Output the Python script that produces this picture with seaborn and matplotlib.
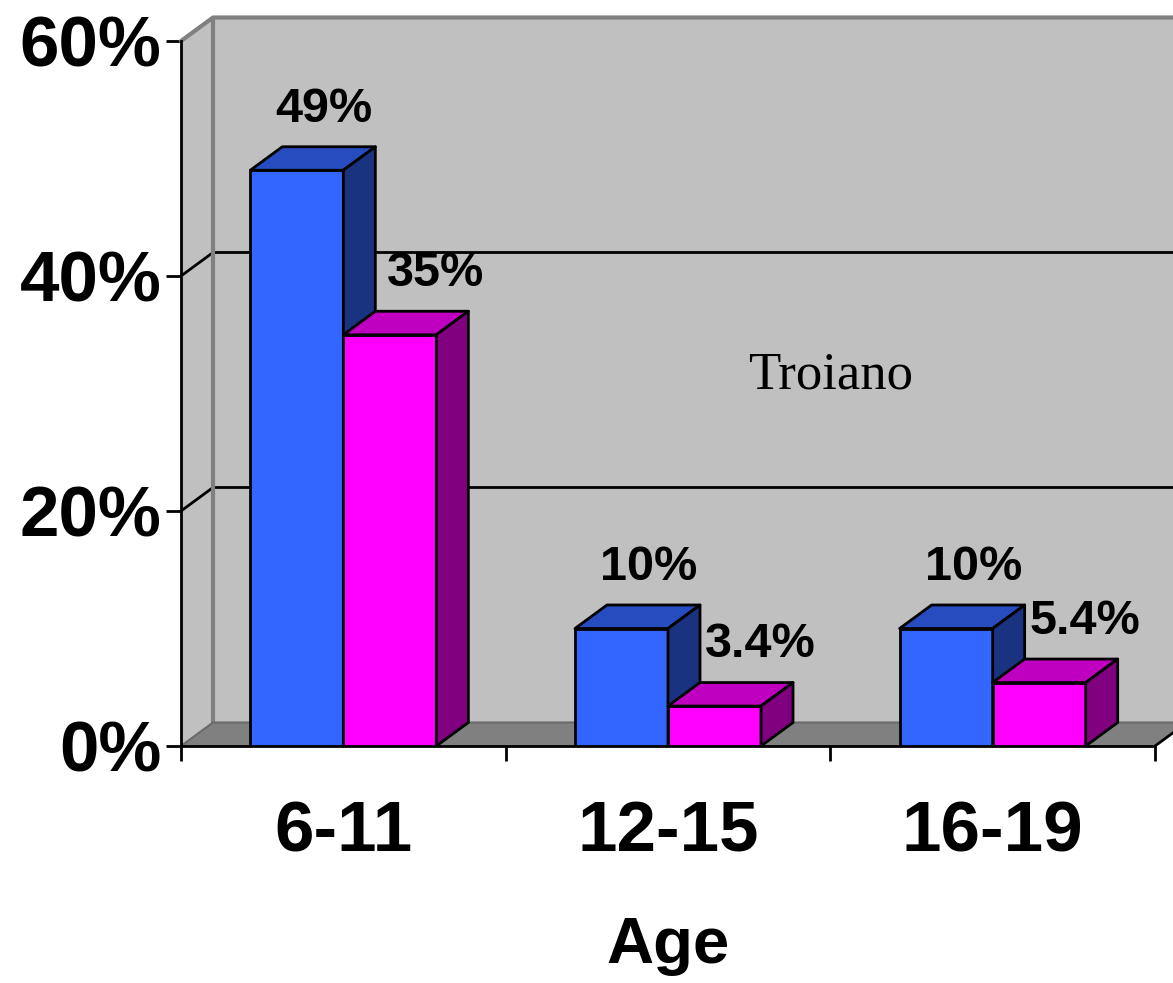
import numpy as np
import pandas as pd
import matplotlib
matplotlib.use("Agg")
import matplotlib.pyplot as plt
from matplotlib.patches import Polygon
import seaborn as sns

# ---- data ----
ages = ["6-11", "12-15", "16-19"]
series_names = ["Series A", "Series B"]
series_a = [49, 10, 10]
series_b = [35, 3.4, 5.4]
y_ticks = [0, 20, 40, 60]
note_text = "Troiano"

front_colors = ["#3366FF", "#FF00FF"]
top_colors = ["#264CC0", "#C000C0"]
side_colors = ["#1A3380", "#800080"]

df = pd.DataFrame({
    "Age": ages * 2,
    "Series": [series_names[0]] * 3 + [series_names[1]] * 3,
    "Value": series_a + series_b,
})

sns.set_theme(style="white")
plt.rcParams["font.family"] = ["Liberation Sans", "DejaVu Sans"]
plt.rcParams.update({"text.color": "black", "xtick.color": "black",
                     "ytick.color": "black", "axes.labelcolor": "black"})

W, H = 1173, 983
fig = plt.figure(figsize=(W / 100, H / 100), dpi=100)
ax_left, ax_right, ax_bottom, ax_top = 181, 1155, 746, 41
ax = fig.add_axes([ax_left / W, (H - ax_bottom) / H,
                   (ax_right - ax_left) / W, (ax_bottom - ax_top) / H])
ax.set_facecolor("none")

xmin, xmax, ymin, ymax = -0.5, 2.5, 0, 60
ax.set_xlim(xmin, xmax)
ax.set_ylim(ymin, ymax)

# depth offset of the 3-D effect, converted from pixels to data units
px_w = (xmax - xmin) / (ax_right - ax_left)
px_h = (ymax - ymin) / (ax_bottom - ax_top)
dx, dy = 32 * px_w, 23.5 * px_h

wall_c, floor_c, edge_c = "#C0C0C0", "#808080", "#808080"

# back wall
ax.add_patch(Polygon([(xmin + dx, ymin + dy), (xmax + dx + 1, ymin + dy),
                      (xmax + dx + 1, ymax + dy), (xmin + dx, ymax + dy)],
                     closed=True, facecolor=wall_c, edgecolor="none",
                     zorder=0.5, clip_on=False))
# side wall
ax.add_patch(Polygon([(xmin, ymin), (xmin, ymax), (xmin + dx, ymax + dy),
                      (xmin + dx, ymin + dy)],
                     closed=True, facecolor=wall_c, edgecolor="none",
                     zorder=0.5, clip_on=False))
# floor
ax.add_patch(Polygon([(xmin, ymin), (xmax, ymin), (xmax + dx, ymin + dy),
                      (xmin + dx, ymin + dy)],
                     closed=True, facecolor=floor_c, edgecolor="none",
                     zorder=0.6, clip_on=False))
# wall edges
ax.plot([xmin + dx, xmin + dx], [ymin + dy, ymax + dy], color=edge_c, lw=3,
        zorder=0.8, clip_on=False, solid_capstyle="butt")
ax.plot([xmin, xmin + dx, xmax + dx + 1], [ymax, ymax + dy, ymax + dy],
        color=edge_c, lw=3, zorder=0.8, clip_on=False)
ax.plot([xmin, xmin + dx, xmax + dx + 1], [ymin, ymin + dy, ymin + dy],
        color="#6A6A6A", lw=1.5, zorder=0.8, clip_on=False)
ax.plot([xmax, xmax + dx], [ymin, ymin + dy], color="black", lw=2,
        zorder=0.9, clip_on=False)

# gridlines on the back wall
for v in y_ticks[1:-1]:
    ax.plot([xmin, xmin + dx, xmax + dx + 1], [v, v + dy, v + dy],
            color="black", lw=2, zorder=0.7, clip_on=False)

ax.text(1.5, 31.5, note_text, ha="center", va="center", fontsize=38,
        family=["Liberation Serif", "DejaVu Serif"], zorder=1)

# front faces of the bars
sns.barplot(data=df, x="Age", y="Value", hue="Series", order=ages,
            hue_order=series_names, palette=front_colors, width=0.573,
            edgecolor="black", linewidth=2, legend=False, ax=ax,
            saturation=1)

values = [series_a, series_b]
bars = [p for p in ax.patches if isinstance(p, matplotlib.patches.Rectangle)]
for k, p in enumerate(bars):
    s = k // len(ages)
    i = k % len(ages)
    z = 3 + s * 2 + i * 0.01
    p.set_zorder(z)
    x0, w, h = p.get_x(), p.get_width(), p.get_height()
    x1 = x0 + w
    top = Polygon([(x0, h), (x1, h), (x1 + dx, h + dy), (x0 + dx, h + dy)],
                  closed=True, facecolor=top_colors[s], edgecolor="black",
                  lw=2, zorder=z + 0.5, joinstyle="round", clip_on=False)
    side = Polygon([(x1, 0), (x1, h), (x1 + dx, h + dy), (x1 + dx, dy)],
                   closed=True, facecolor=side_colors[s], edgecolor="black",
                   lw=2, zorder=z + 0.5, joinstyle="round", clip_on=False)
    ax.add_patch(top)
    ax.add_patch(side)
    v = values[s][i]
    txt = f"{v:.0f}%" if float(v).is_integer() else f"{v:.1f}%"
    xoff = 19.5 if s == 0 else 33
    ax.annotate(txt, (x0 + w / 2, h), xytext=(xoff, 44),
                textcoords="offset points", ha="center", va="center",
                fontsize=35, fontweight="bold", zorder=10,
                annotation_clip=False)

# axes, ticks and labels
for sp in ["top", "right"]:
    ax.spines[sp].set_visible(False)
for sp in ["left", "bottom"]:
    ax.spines[sp].set_color("black")
    ax.spines[sp].set_linewidth(2)
    ax.spines[sp].set_zorder(2.5)

ax.set_yticks(y_ticks)
ax.set_yticklabels([f"{t}%" for t in y_ticks], fontsize=51,
                   fontweight="bold")
ax.tick_params(axis="y", direction="out", length=11, width=2,
               color="black", pad=3, left=True)

ax.set_xticks(range(len(ages)))
ax.set_xticklabels(ages, fontsize=51, fontweight="bold")
ax.set_xticks(np.arange(xmin, xmax + 0.01, 1), minor=True)
ax.tick_params(axis="x", which="major", length=0, pad=39)
ax.tick_params(axis="x", which="minor", direction="out", length=11,
               width=2, color="black", bottom=True)

ax.set_xlabel("Age", fontsize=47, fontweight="bold", labelpad=36)
ax.set_ylabel("")

fig.savefig("out.png", dpi=100)
